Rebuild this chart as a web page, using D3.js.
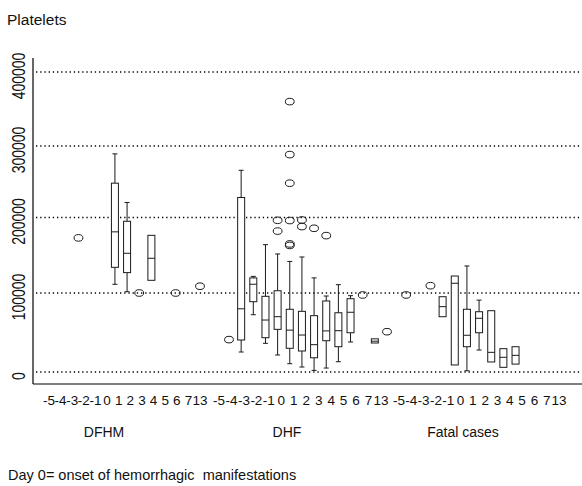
<!DOCTYPE html>
<html><head><meta charset="utf-8">
<script src="https://cdn.jsdelivr.net/npm/d3@7/dist/d3.min.js"></script>
<style>
html,body{margin:0;padding:0;background:#fff;}
svg{display:block;}
text{font-family:"Liberation Sans",Arial,sans-serif;fill:#111;}
</style></head>
<body>
<svg id="chart" width="582" height="486"></svg>
<script>
// ---------- data ----------
const groups = ["DFHM", "DHF", "Fatal cases"];
const days = ["-5","-4","-3","-2","-1","0","1","2","3","4","5","6","7","13"];
const yTicks = [0, 100000, 200000, 300000, 400000];

// box statistics: lo/hi = whisker ends (null = none), q1, median, q3
const dfhmBoxes = [
  {day:"1", lo:111500, q1:134000, med:181000, q3:248000, hi:289000},
  {day:"2", lo:101700, q1:127000, med:152600, q3:195000, hi:221000},
  {day:"4", lo:null,   q1:116800, med:146000, q3:176400, hi:null}
];
const dhfBoxes = [
  {day:"-4", lo:25300, q1:40500, med:80000, q3:228000, hi:266000},
  {day:"-3", lo:72500, q1:89000, med:111600, q3:120000, hi:122000},
  {day:"-2", lo:36300, q1:43400, med:65800, q3:95800, hi:164000},
  {day:"-1", lo:21500, q1:54000, med:70000, q3:103000, hi:151700},
  {day:"0",  lo:10500, q1:30000, med:53000, q3:79400, hi:141800},
  {day:"1",  lo:6300,  q1:26600, med:46800, q3:76800, hi:147700},
  {day:"2",  lo:2000,  q1:18000, med:34600, q3:71300, hi:120000},
  {day:"3",  lo:5000,  q1:39600, med:52000, q3:89900, hi:96200},
  {day:"4",  lo:13000, q1:32000, med:52300, q3:75000, hi:111000},
  {day:"5",  lo:38000, q1:49700, med:75600, q3:92800, hi:96600},
  {day:"7",  lo:null,  q1:36700, med:39000, q3:42000, hi:null}
];
const fatalBoxes = [
  {day:"-1", lo:null, q1:70000, med:82700, q3:95300, hi:null},
  {day:"0",  lo:null, q1:8900,  med:112900, q3:122500, hi:null},
  {day:"1",  lo:1600, q1:32000, med:46500, q3:79400, hi:135800},
  {day:"2",  lo:27800, q1:49700, med:68000, q3:76300, hi:91000},
  {day:"3",  lo:null, q1:12700, med:24900, q3:77600, hi:null},
  {day:"4",  lo:null, q1:5900,  med:18600, q3:29500, hi:null},
  {day:"5",  lo:null, q1:10000, med:21100, q3:32000, hi:null}
];

// single observations / outside values: [day, value]
const dfhmPoints = [["-2",173000],["3",100000],["6",100000],["13",109000]];
const dhfPoints = [
  ["-5",41000],["-1",196300],["-1",182000],
  ["0",360000],["0",288000],["0",248000],["0",196000],["0",165000],["0",163000],
  ["1",196700],["1",188000],["2",185700],["3",176000],
  ["6",97500],["13",51000]
];
const fatalPoints = [["-4",97500],["-2",109700]];

const boxesByGroup = {"DFHM": dfhmBoxes, "DHF": dhfBoxes, "Fatal cases": fatalBoxes};
const pointsByGroup = {"DFHM": dfhmPoints, "DHF": dhfPoints, "Fatal cases": fatalPoints};

// ---------- layout ----------
const svg = d3.select("#chart");
const axisX = 33, axisTop = 58, axisBottom = 384, rightEdge = 582;
const panelStart = d3.scaleOrdinal(groups, [42, 229, 394]);
const dayX = d3.scalePoint(days, [0, 158]);
const x = (g, d) => panelStart(g) + dayX(d);
// tick-label rows (as typeset under each panel)
const labelRange = d3.scaleOrdinal(groups, [[49, 200], [219, 381], [399, 559]]);
const groupLabelX = d3.scaleOrdinal(groups, [104, 287, 463]);
const y = d3.scaleLinear().domain(yTicks).range([372, 293, 217.5, 146, 72]);

const boxW = 7, capW = 5;
const ink = "#1a1a1a";

// gridlines (dotted)
svg.append("g").selectAll("line").data(yTicks).join("line")
  .attr("x1", axisX + 3).attr("x2", rightEdge)
  .attr("y1", d => y(d)).attr("y2", d => y(d))
  .attr("stroke", "#000").attr("stroke-width", 1.3)
  .attr("stroke-dasharray", "1.3,2.9");

// axes lines
svg.append("line").attr("x1", axisX).attr("x2", axisX).attr("y1", axisTop).attr("y2", axisBottom)
  .attr("stroke", "#000").attr("stroke-width", 1.2);
svg.append("line").attr("x1", axisX).attr("x2", rightEdge).attr("y1", axisBottom).attr("y2", axisBottom)
  .attr("stroke", "#000").attr("stroke-width", 1.2);

// y tick labels
svg.append("g").selectAll("text").data(yTicks).join("text")
  .attr("transform", d => `translate(24.5,${y(d) + 4}) rotate(-90) scale(1,1.25)`)
  .attr("text-anchor", "middle")
  .style("font-size", "14px")
  .text(d => d3.format("d")(d));

// y title
svg.append("text").attr("x", 7).attr("y", 25).style("font-size", "15.5px").text("Platelets");

// boxes
groups.forEach(g => {
  const gg = svg.append("g");
  const bx = boxesByGroup[g];
  bx.forEach(b => {
    const cx = x(g, b.day);
    if (b.hi != null) {
      gg.append("line").attr("x1", cx).attr("x2", cx).attr("y1", y(b.hi)).attr("y2", y(b.q3)).attr("stroke", ink);
      gg.append("line").attr("x1", cx - capW/2).attr("x2", cx + capW/2).attr("y1", y(b.hi)).attr("y2", y(b.hi)).attr("stroke", ink);
    }
    if (b.lo != null) {
      gg.append("line").attr("x1", cx).attr("x2", cx).attr("y1", y(b.q1)).attr("y2", y(b.lo)).attr("stroke", ink);
      gg.append("line").attr("x1", cx - capW/2).attr("x2", cx + capW/2).attr("y1", y(b.lo)).attr("y2", y(b.lo)).attr("stroke", ink);
    }
    gg.append("rect").attr("x", cx - boxW/2).attr("width", boxW)
      .attr("y", y(b.q3)).attr("height", y(b.q1) - y(b.q3))
      .attr("fill", "#fff").attr("stroke", ink).attr("stroke-width", 1);
    gg.append("line").attr("x1", cx - boxW/2).attr("x2", cx + boxW/2)
      .attr("y1", y(b.med)).attr("y2", y(b.med)).attr("stroke", ink);
  });
  gg.selectAll("ellipse").data(pointsByGroup[g]).join("ellipse")
    .attr("cx", d => x(g, d[0])).attr("cy", d => y(d[1]))
    .attr("rx", 4.4).attr("ry", 3.3)
    .attr("fill", "none").attr("stroke", ink).attr("stroke-width", 1);

  // x tick labels
  const lx = d3.scalePoint(days, labelRange(g));
  svg.append("g").selectAll("text").data(days).join("text")
    .attr("x", d => lx(d)).attr("y", 405)
    .attr("text-anchor", "middle")
    .style("font-size", "13.5px")
    .text(d => d);

  // group label
  svg.append("text").attr("x", groupLabelX(g)).attr("y", 437)
    .attr("text-anchor", "middle").style("font-size", "14px").text(g);
});

// footnote
svg.append("text").attr("x", 8).attr("y", 480).style("font-size", "14.5px")
  .style("white-space", "pre")
  .text("Day 0= onset of hemorrhagic  manifestations");
</script>
</body></html>
